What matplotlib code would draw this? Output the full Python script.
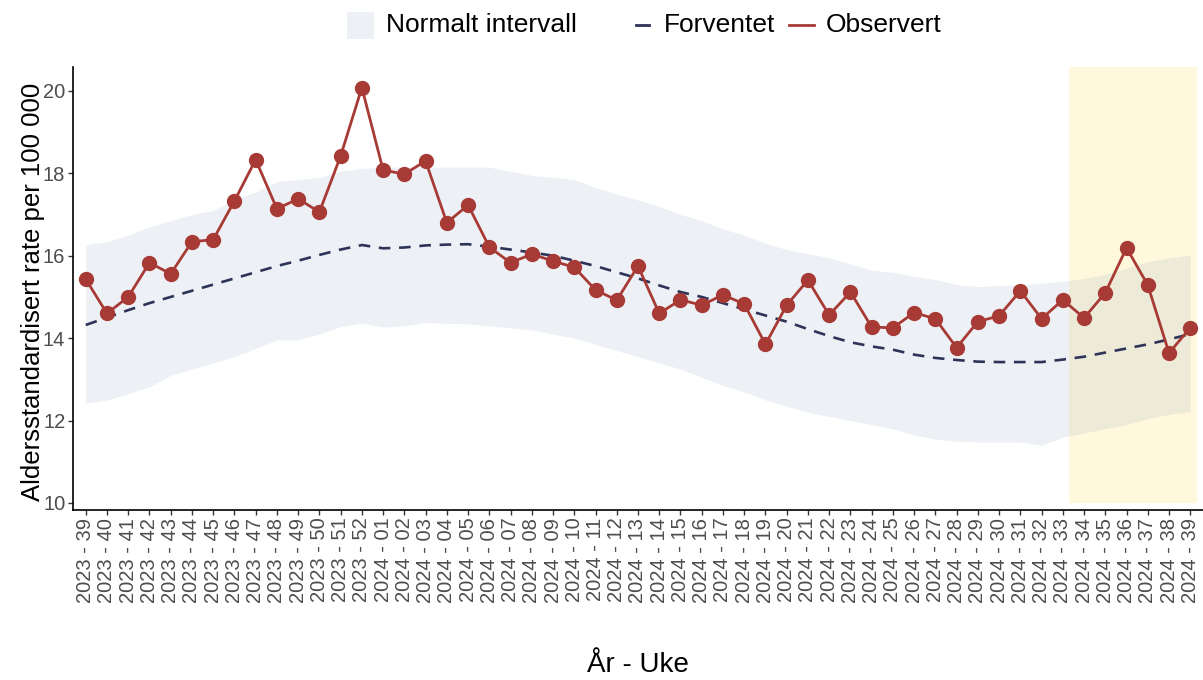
import matplotlib
matplotlib.use("Agg")
import matplotlib.pyplot as plt
from matplotlib.patches import Rectangle
from matplotlib.lines import Line2D
import numpy as np

plt.rcParams['font.family'] = ['Liberation Sans', 'DejaVu Sans']

# Week labels: 2023 week 39 through 2024 week 39
week_labels = ([f"2023 - {w:02d}" for w in range(39, 53)] +
               [f"2024 - {w:02d}" for w in range(1, 40)])

observed = [15.43, 14.60, 15.00, 15.83, 15.56, 16.34, 16.39, 17.33, 18.33, 17.14,
            17.38, 17.06, 18.42, 20.08, 18.08, 17.98, 18.30, 16.80, 17.23, 16.21,
            15.83, 16.04, 15.87, 15.72, 15.17, 14.92, 15.75, 14.60, 14.93, 14.80,
            15.05, 14.83, 13.85, 14.80, 15.41, 14.56, 15.12, 14.27, 14.25, 14.62,
            14.47, 13.77, 14.40, 14.54, 15.15, 14.47, 14.93, 14.49, 15.10, 16.19,
            15.29, 13.64, 14.25]

expected = [14.32, 14.50, 14.68, 14.85, 15.00, 15.15, 15.30, 15.45, 15.60, 15.75,
            15.88, 16.02, 16.15, 16.26, 16.18, 16.20, 16.25, 16.27, 16.28, 16.22,
            16.15, 16.08, 16.00, 15.88, 15.75, 15.60, 15.45, 15.28, 15.12, 15.00,
            14.85, 14.70, 14.55, 14.40, 14.22, 14.05, 13.90, 13.80, 13.72, 13.60,
            13.52, 13.47, 13.43, 13.42, 13.42, 13.42, 13.48, 13.55, 13.65, 13.75,
            13.85, 13.97, 14.10]

lower = [12.42, 12.50, 12.65, 12.82, 13.10, 13.25, 13.40, 13.55, 13.75, 13.96,
         13.96, 14.10, 14.28, 14.36, 14.27, 14.30, 14.38, 14.36, 14.35, 14.30,
         14.25, 14.20, 14.10, 14.00, 13.85, 13.70, 13.55, 13.40, 13.25, 13.05,
         12.85, 12.70, 12.50, 12.35, 12.20, 12.10, 12.00, 11.90, 11.80, 11.65,
         11.55, 11.50, 11.48, 11.48, 11.48, 11.40, 11.60, 11.70, 11.80, 11.90,
         12.05, 12.15, 12.22]

upper = [16.27, 16.34, 16.50, 16.70, 16.85, 17.00, 17.10, 17.35, 17.55, 17.80,
         17.85, 17.90, 18.05, 18.12, 18.15, 18.15, 18.15, 18.15, 18.15, 18.15,
         18.05, 17.95, 17.90, 17.85, 17.65, 17.50, 17.35, 17.20, 17.00, 16.85,
         16.65, 16.50, 16.30, 16.15, 16.05, 15.95, 15.80, 15.65, 15.60, 15.50,
         15.42, 15.30, 15.25, 15.28, 15.30, 15.33, 15.38, 15.45, 15.55, 15.70,
         15.85, 15.95, 16.02]

y_ticks = [10, 12, 14, 16, 18, 20]

RED = '#A83A36'
NAVY = '#2E3359'
BAND = (165 / 255, 180 / 255, 200 / 255)
HILITE = '#FFF8DC'
TICK_GREY = '#4D4D4D'

W, H = 1203, 680
AX_L, AX_R, AX_T, AX_B = 73, 1203, 67, 510
fig = plt.figure(figsize=(W / 100, H / 100), dpi=100)
ax = fig.add_axes([AX_L / W, 1 - AX_B / H, (AX_R - AX_L) / W, (AX_B - AX_T) / H])

x = np.arange(len(week_labels))

# Highlighted recent period
hl_start = week_labels.index("2024 - 33") + 0.3
hl_end = len(week_labels) - 1 + 0.3
ax.add_patch(Rectangle((hl_start, 10), hl_end - hl_start, 20, facecolor=HILITE,
                       edgecolor='none', zorder=0))

ax.fill_between(x, lower, upper, color=BAND, alpha=0.2, lw=0, zorder=1)
ax.plot(x, expected, color=NAVY, lw=1.9, dashes=(4.4, 3.3), zorder=2)
ax.plot(x, observed, color=RED, lw=2.0, marker='o', ms=10, zorder=3)

ax.set_xlim(-0.6, 52.6)
ax.set_ylim(9.83, 20.58)
ax.set_xticks(x)
ax.set_xticklabels(week_labels, rotation=90, fontsize=14.5, color=TICK_GREY)
ax.set_yticks(y_ticks)
ax.set_yticklabels([str(t) for t in y_ticks], fontsize=14.5, color=TICK_GREY)
ax.tick_params(axis='both', length=3.5, width=1.0, color='#333333', pad=2)

for side in ('top', 'right'):
    ax.spines[side].set_visible(False)
for side in ('left', 'bottom'):
    ax.spines[side].set_linewidth(1.2)
    ax.spines[side].set_color('black')

ax.set_xlabel("År - Uke", fontsize=20)
ax.set_ylabel("Aldersstandardisert rate per 100 000", fontsize=18.5)
ax.xaxis.label.set_va('center')
ax.yaxis.label.set_va('center')
ax.xaxis.set_label_coords((638 - AX_L) / (AX_R - AX_L), (AX_B - 665) / (AX_B - AX_T))
ax.yaxis.set_label_coords((33 - AX_L) / (AX_R - AX_L), (AX_B - 292) / (AX_B - AX_T))

# Legend drawn in figure pixel coordinates
def fx(px):
    return px / W

def fy(py):
    return 1 - py / H

leg_y = 25
fig.patches.append(Rectangle((fx(347), fy(39)), 27 / W, 27 / H, facecolor=BAND,
                             alpha=0.2, edgecolor='none', transform=fig.transFigure))
fig.text(fx(386), fy(leg_y), "Normalt intervall", fontsize=19, va='center', ha='left')
fig.lines.append(Line2D([fx(636), fx(649)], [fy(leg_y), fy(leg_y)], color=NAVY, lw=2.0,
                        transform=fig.transFigure))
fig.text(fx(664), fy(leg_y), "Forventet", fontsize=19, va='center', ha='left')
fig.lines.append(Line2D([fx(789), fx(814)], [fy(leg_y), fy(leg_y)], color=RED, lw=2.0,
                        transform=fig.transFigure))
fig.text(fx(826), fy(leg_y), "Observert", fontsize=19, va='center', ha='left')

fig.savefig("out.png", dpi=100)
